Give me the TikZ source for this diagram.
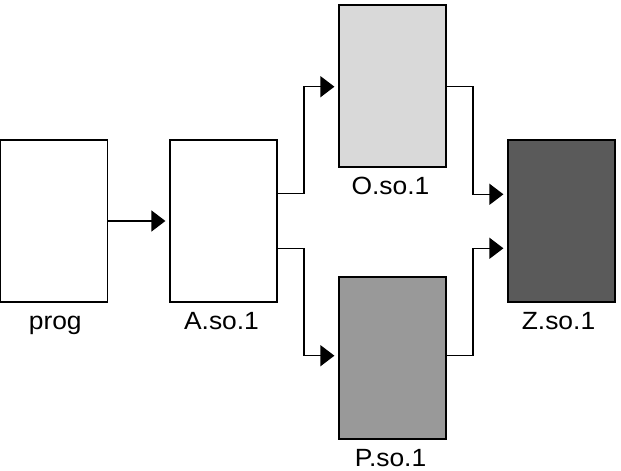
\documentclass[tikz,border=0pt]{standalone}
\usepackage{fontspec}
\setmainfont{Liberation Sans}
\usetikzlibrary{positioning}
\usetikzlibrary{calc}
\usetikzlibrary{arrows.meta}
\definecolor{lightlib}{HTML}{D9D9D9}
\definecolor{midlib}{HTML}{999999}
\definecolor{darklib}{HTML}{5A5A5A}
\newcommand{\widetext}[1]{\scalebox{1.06}[1]{#1}}

\begin{document}
\begin{tikzpicture}[x=1bp, y=-1bp,
    libbox/.style={draw=black, line width=1.2bp, minimum width=107bp, minimum height=162bp, inner sep=0pt},
    liblabel/.style={anchor=base, font=\fontsize{25}{30}\selectfont, inner sep=0pt},
    conn/.style={line width=1.3bp, -{Triangle[length=14bp, width=21bp]}, shorten >=4bp}]
    \useasboundingbox (0,0) rectangle (621,471);

    % the program and its libraries
    \node[libbox, fill=white] (prog) at (54.25,221) {};
    \node[libbox, fill=white] (A) at (223.5,221) {};
    \node[libbox, fill=lightlib] (O) at (392.5,86) {};
    \node[libbox, fill=midlib] (P) at (392.5,358) {};
    \node[libbox, fill=darklib] (Z) at (561.5,221) {};

    % names under the boxes
    \node[liblabel] (progname) at ($(prog.south)+(1,26.8)$) {\widetext{prog}};
    \node[liblabel] (Aname) at ($(A.south)+(-2,26.8)$) {\widetext{A.so.1}};
    \node[liblabel] (Oname) at ($(O.south)+(-2,26.8)$) {\widetext{O.so.1}};
    \node[liblabel] (Pname) at ($(P.south)+(-2,26.8)$) {\widetext{P.so.1}};
    \node[liblabel] (Zname) at ($(Z.south)+(-3,26.8)$) {\widetext{Z.so.1}};

    % dependencies
    \draw[conn] (prog.east) -- (A.west);
    \draw[conn] ([yshift=27.7bp]A.east) -- ++(26.5,0) |- ([yshift=-0.7bp]O.west);
    \draw[conn] ([yshift=-27.3bp]A.east) -- ++(26.5,0) |- ([yshift=2.3bp]P.west);
    \draw[conn] ([yshift=-0.7bp]O.east) -- ++(26.5,0) |- ([yshift=26.7bp]Z.west);
    \draw[conn] ([yshift=2.3bp]P.east) -- ++(26.5,0) |- ([yshift=-27.3bp]Z.west);
\end{tikzpicture}
\end{document}
